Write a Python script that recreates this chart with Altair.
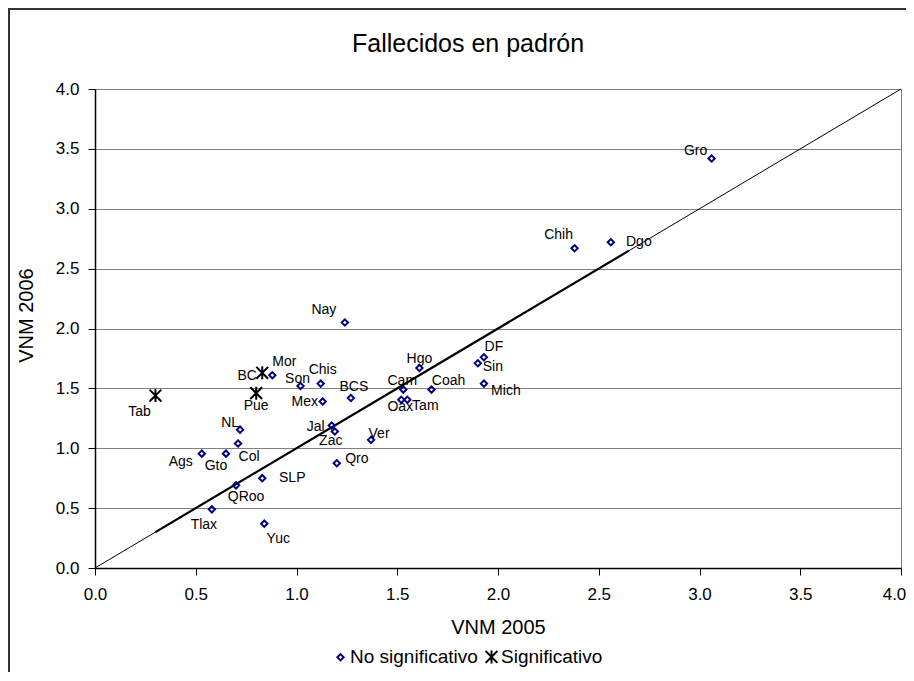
import altair as alt
import pandas as pd

# ---- data ----
estados = ["Ags", "Gto", "Col", "NL", "QRoo", "Tlax", "SLP", "Yuc", "Mor", "Son",
           "Chis", "Mex", "Nay", "Jal", "Zac", "Qro", "BCS", "Ver", "Cam", "Oax",
           "Tam", "Hgo", "Coah", "Sin", "DF", "Mich", "Chih", "Dgo", "Gro",
           "Tab", "BC", "Pue"]
vnm_2005 = [0.53, 0.65, 0.71, 0.72, 0.70, 0.58, 0.83, 0.84, 0.88, 1.02,
            1.12, 1.13, 1.24, 1.175, 1.19, 1.20, 1.27, 1.37, 1.53, 1.52,
            1.55, 1.61, 1.67, 1.90, 1.93, 1.93, 2.38, 2.56, 3.06,
            0.30, 0.83, 0.80]
vnm_2006 = [0.955, 0.955, 1.04, 1.155, 0.69, 0.49, 0.75, 0.37, 1.61, 1.52,
            1.54, 1.39, 2.05, 1.19, 1.14, 0.875, 1.42, 1.07, 1.49, 1.405,
            1.405, 1.67, 1.49, 1.71, 1.76, 1.54, 2.67, 2.72, 3.42,
            1.44, 1.63, 1.46]
tipo = ["No significativo"] * 29 + ["Significativo"] * 3

diag_x = [0.0, 4.0]        # identity line y = x
trend_x = [0.30, 2.65]     # heavier segment along y = x

ticks = [0.0, 0.5, 1.0, 1.5, 2.0, 2.5, 3.0, 3.5, 4.0]
legend_order = ["No significativo", "Significativo"]
chart_title = "Fallecidos en padrón"

# ---- label placement (style, pixels) ----
label_offsets = {
    "Gro": (-16, -7), "Nay": (-21, -13), "Tab": (-16, 16), "Chih": (-16, -13),
    "Dgo": (28, 0), "DF": (10, -10), "Sin": (15, 4), "Mich": (22, 7),
    "Coah": (17, -9), "Cam": (-1, -9), "Oax": (-1, 7), "Tam": (18, 6),
    "Hgo": (0, -9), "BCS": (3, -11), "Ver": (8, -6), "Qro": (20, -4),
    "Jal": (-16, 2), "Zac": (-4, 10), "NL": (-10, -7), "Col": (11, 14),
    "Gto": (-10, 12), "Ags": (-21, 8), "SLP": (30, 0), "QRoo": (10, 12),
    "Tlax": (-8, 16), "Yuc": (14, 15), "Mor": (12, -13), "BC": (-15, 3),
    "Son": (-3, -7), "Chis": (2, -14), "Mex": (-18, 0), "Pue": (0, 13),
}

FONT = "Liberation Sans"
ASTERISK = "M-1,-1L1,1M-1,1L1,-1M0,-1.1L0,1.1"

df = pd.DataFrame({"estado": estados, "x": vnm_2005, "y": vnm_2006, "tipo": tipo})
diag = pd.DataFrame({"x": diag_x})
trend = pd.DataFrame({"x": trend_x})

xs = alt.Scale(domain=[0, 4], nice=False)
ys = alt.Scale(domain=[0, 4], nice=False)

x_enc = alt.X("x:Q", scale=xs, axis=alt.Axis(
    values=ticks, format=".1f", title="VNM 2005", grid=False, labelFlush=False,
    labelPadding=11, titleY=59, titleBaseline="middle",
    labelOffset={"condition": {"test": "datum.value == 4", "value": -7}, "value": 0}))
y_enc = alt.Y("y:Q", scale=ys, axis=alt.Axis(
    values=ticks, format=".1f", title="VNM 2006", grid=True, labelFlush=False,
    labelPadding=9, titleX=-69, titleY=226, titleBaseline="middle", titleAngle=-90))

diag_line = alt.Chart(diag).transform_calculate(y="datum.x").mark_line(
    color="black", strokeWidth=1).encode(x=x_enc, y=y_enc)
trend_line = alt.Chart(trend).transform_calculate(y="datum.x").mark_line(
    color="black", strokeWidth=2.2).encode(x="x:Q", y="y:Q")

leg = alt.Legend(title=None, orient="none", direction="horizontal", legendX=236, legendY=558)
points = alt.Chart(df).mark_point(filled=False, strokeWidth=2, opacity=1).encode(
    x="x:Q", y="y:Q",
    shape=alt.Shape("tipo:N", scale=alt.Scale(domain=legend_order, range=["diamond", ASTERISK]),
                    legend=leg),
    stroke=alt.Stroke("tipo:N", scale=alt.Scale(domain=legend_order, range=["#000080", "#000000"]),
                      legend=leg),
    size=alt.Size("tipo:N", scale=alt.Scale(domain=legend_order, range=[40, 140]),
                  legend=leg),
)

label_layers = []
for name in estados:
    dx, dy = label_offsets[name]
    label_layers.append(
        alt.Chart(df).transform_filter(alt.datum.estado == name).mark_text(
            dx=dx, dy=dy, align="center", baseline="middle", font=FONT,
            fontSize=14, color="black").encode(x="x:Q", y="y:Q", text="estado:N")
    )

one = pd.DataFrame({"t": [chart_title]})
# chart title (drawn inside the chart-area frame)
title_text = alt.Chart(one).mark_text(
    font=FONT, fontSize=25, color="black", align="center", baseline="alphabetic"
).encode(x=alt.value(373), y=alt.value(-37), text="t:N")

# chart-area frame (left and top edges; the rest lies beyond the picture)
frame_left = alt.Chart(one).mark_rule(color="#333333", strokeWidth=2).encode(
    x=alt.value(-86), y=alt.value(-80), y2=alt.value(640))
frame_top = alt.Chart(one).mark_rule(color="#333333", strokeWidth=2).encode(
    x=alt.value(-87), x2=alt.value(830), y=alt.value(-80))

chart = alt.layer(diag_line, trend_line, points, *label_layers, title_text,
                  frame_left, frame_top).properties(
    width=806, height=479,
    autosize=alt.AutoSizeParams(type="none"),
    padding={"left": 87, "top": 81, "right": 5, "bottom": 104},
).configure_view(
    stroke="#808080", strokeWidth=1
).configure_axis(
    domainColor="black", domainWidth=1.5, tickColor="black", tickSize=7, tickWidth=1,
    labelFont=FONT, labelFontSize=17, labelColor="black",
    titleFont=FONT, titleFontSize=20, titleFontWeight="normal", titleColor="black",
    gridColor="#808080", gridWidth=1, gridOpacity=1,
).configure_legend(
    labelFont=FONT, labelFontSize=19, labelColor="black", columnPadding=3,
    symbolStrokeWidth=2, labelOffset=0,
)

chart.save("out.html", embed_options={"renderer": "svg", "actions": False})
